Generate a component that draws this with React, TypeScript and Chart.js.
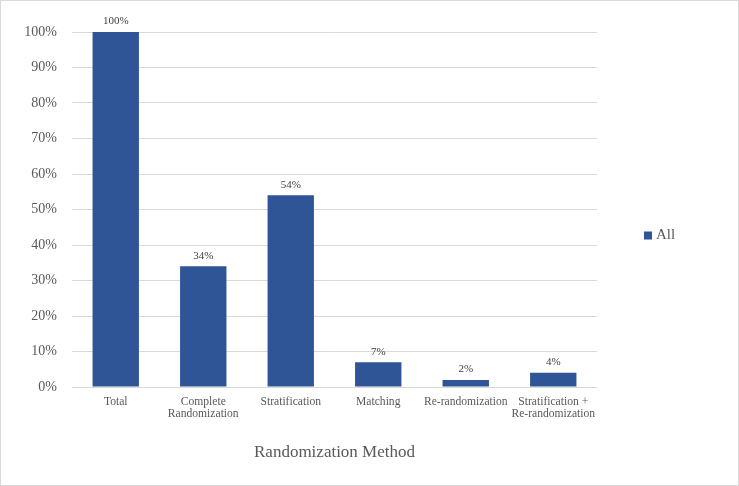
import React, { useEffect, useRef } from "react";
import { Chart, registerables } from "chart.js";

Chart.register(...registerables);

const categories: (string | string[])[] = [
  "Total",
  ["Complete", "Randomization"],
  "Stratification",
  "Matching",
  "Re-randomization",
  ["Stratification +", "Re-randomization"],
];
const seriesLabel = "All";
const shareAll = [100, 34, 54, 7, 2, 4];
const yTicks = [0, 10, 20, 30, 40, 50, 60, 70, 80, 90, 100];
const xTitle = "Randomization Method";

const FONT = "'Liberation Serif', 'DejaVu Serif', serif";
const BAR = "#2F5597";
const TEXT = "#595959";

const framePlugin = {
  id: "frame",
  beforeDraw(chart: any) {
    const { ctx, width, height } = chart;
    ctx.save();
    ctx.fillStyle = "#ffffff";
    ctx.fillRect(0, 0, width, height);
    ctx.strokeStyle = "#d9d9d9";
    ctx.lineWidth = 1;
    ctx.strokeRect(0.5, 0.5, width - 1, height - 1);
    ctx.restore();
  },
};

const valueLabels = {
  id: "valueLabels",
  afterDatasetsDraw(chart: any) {
    const { ctx } = chart;
    const meta = chart.getDatasetMeta(0);
    const data = chart.data.datasets[0].data as number[];
    ctx.save();
    ctx.font = `11px ${FONT}`;
    ctx.fillStyle = "#404040";
    ctx.textAlign = "center";
    ctx.textBaseline = "bottom";
    meta.data.forEach((bar: any, i: number) => {
      ctx.fillText(`${data[i]}%`, bar.x, bar.y - 5);
    });
    ctx.restore();
  },
};

const sideLegend = {
  id: "sideLegend",
  afterDraw(chart: any) {
    const { ctx, chartArea } = chart;
    const ds = chart.data.datasets[0];
    const midY = (chartArea.top + chartArea.bottom) / 2 + 26;
    const x = chartArea.right + 47;
    ctx.save();
    ctx.fillStyle = ds.backgroundColor;
    ctx.fillRect(x, midY - 4, 8, 8);
    ctx.font = `15px ${FONT}`;
    ctx.fillStyle = TEXT;
    ctx.textAlign = "left";
    ctx.textBaseline = "middle";
    ctx.fillText(ds.label, x + 12, midY);
    ctx.restore();
  },
};

export default function App() {
  const ref = useRef<HTMLCanvasElement | null>(null);

  useEffect(() => {
    document.body.style.margin = "0";
    if (!ref.current) return;
    const chart = new Chart(ref.current, {
      type: "bar",
      data: {
        labels: categories,
        datasets: [
          {
            label: seriesLabel,
            data: shareAll,
            backgroundColor: BAR,
            borderWidth: 0,
            categoryPercentage: 1,
            barPercentage: 0.53,
          },
        ],
      },
      options: {
        animation: false,
        responsive: false,
        maintainAspectRatio: false,
        layout: { padding: { top: 32, right: 142, bottom: 0, left: 0 } },
        plugins: {
          legend: { display: false },
          tooltip: { enabled: false },
        },
        scales: {
          x: {
            grid: { display: false, drawTicks: false },
            border: { display: false },
            ticks: {
              color: TEXT,
              font: { family: FONT, size: 11.6, lineHeight: 1.05 },
              padding: 9,
              maxRotation: 0,
              autoSkip: false,
            },
            title: {
              display: true,
              text: xTitle,
              color: TEXT,
              font: { family: FONT, size: 17 },
              padding: { top: 0, bottom: 23 },
            },
            afterFit: (scale: any) => {
              scale.height = 99;
            },
          },
          y: {
            min: 0,
            max: 100,
            afterBuildTicks: (scale: any) => {
              scale.ticks = yTicks.map((v) => ({ value: v }));
            },
            grid: { color: "#d9d9d9", lineWidth: 1, drawTicks: false },
            border: { display: false },
            ticks: {
              color: TEXT,
              font: { family: FONT, size: 14 },
              padding: 15,
              callback: (v: any) => `${v}%`,
            },
            afterFit: (scale: any) => {
              scale.width = 72;
            },
          },
        },
      },
      plugins: [framePlugin, valueLabels, sideLegend],
    });
    return () => chart.destroy();
  }, []);

  return (
    <div style={{ width: 739, height: 486 }}>
      <canvas ref={ref} width={739} height={486} style={{ display: "block" }} />
    </div>
  );
}
